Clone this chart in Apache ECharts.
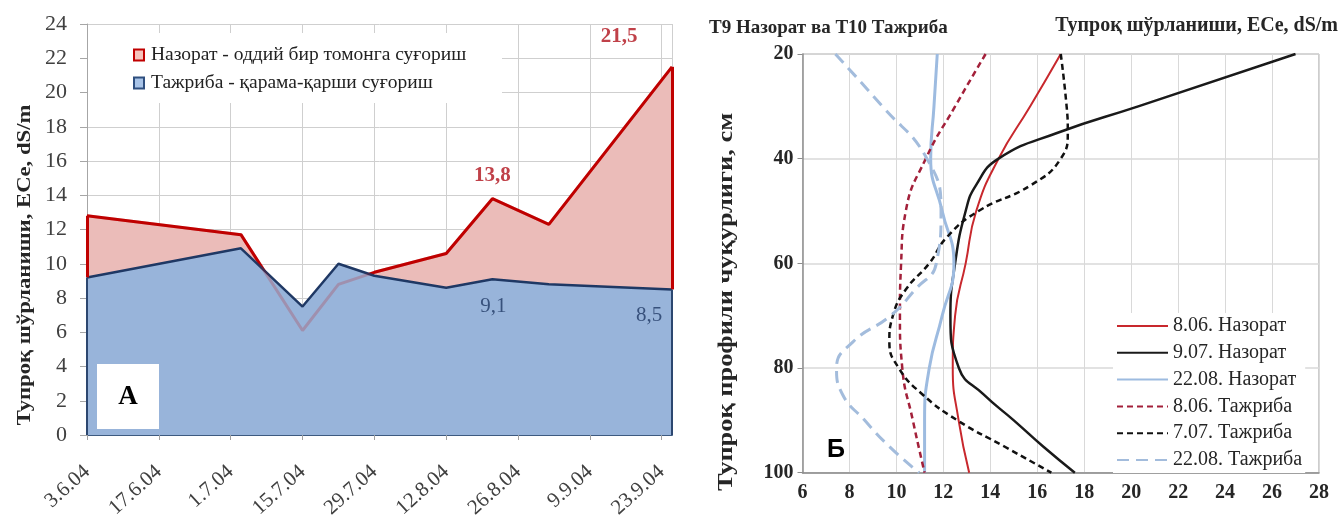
<!DOCTYPE html>
<html>
<head>
<meta charset="utf-8">
<script src="https://cdn.jsdelivr.net/npm/echarts@6/dist/echarts.min.js"></script>
<style>
  html, body { margin: 0; padding: 0; background: #fff; }
  #chart { width: 1341px; height: 522px; }
</style>
</head>
<body>
<div id="chart"></div>
<script>
const SERIF = '"Liberation Serif", "Times New Roman", serif';

// ---------- Panel A: soil salinity through the season ----------
const saltDates  = ['2004-06-03', '2004-07-03', '2004-07-15', '2004-07-22', '2004-07-29',
                    '2004-08-12', '2004-08-21', '2004-09-01', '2004-09-25'];
const controlEce = [12.8, 11.7, 6.1, 8.8, 9.5, 10.6, 13.8, 12.3, 21.5];
const trialEce   = [9.2, 10.9, 7.5, 10.0, 9.3, 8.6, 9.1, 8.8, 8.5];
const dateTicks  = ['3.6.04', '17.6.04', '1.7.04', '15.7.04', '29.7.04',
                    '12.8.04', '26.8.04', '9.9.04', '23.9.04'];
const controlName = 'Назорат - оддий бир томонга суғориш';
const trialName   = 'Тажриба - қарама-қарши суғориш';
const controlLabelIdx = [6, 8];
const trialLabelIdx   = [6, 8];

// ---------- Panel Б: salinity down the soil profile ----------
const depthCtrl0806 = [20, 30, 40, 50, 60, 70, 80, 90, 100];
const ctrl0806      = [17.0, 15.7, 14.35, 13.4, 12.95, 12.5, 12.4, 12.65, 13.1];
const depthCtrl0907 = [20, 30, 35, 40, 45, 50, 60, 70, 80, 85, 90, 95, 100];
const ctrl0907      = [27.0, 20.3, 16.9, 14.35, 13.4, 12.95, 12.5, 12.3, 12.66, 13.7, 15.0, 16.25, 17.6];
const depthCtrl2208 = [20, 30, 40, 50, 60, 70, 80, 90, 100];
const ctrl2208      = [11.74, 11.6, 11.46, 11.95, 12.45, 11.95, 11.4, 11.2, 11.2];
const depthTrial0806 = [20, 30, 40, 50, 60, 70, 80, 90, 100];
const trial0806      = [13.8, 12.5, 11.25, 10.4, 10.2, 10.15, 10.25, 10.7, 11.2];
const depthTrial0707 = [20, 30, 35, 40, 45, 50, 55, 60, 65, 70, 75, 80, 85, 90, 95, 100];
const trial0707      = [17.0, 17.25, 17.3, 17.0, 15.75, 13.5, 12.15, 11.4, 10.4, 9.85, 9.7, 10.1, 11.1, 12.6, 14.6, 16.6];
const depthTrial2208 = [20, 30, 40, 50, 60, 65, 70, 75, 80, 85, 90, 95, 100];
const trial2208      = [7.4, 9.4, 11.3, 11.9, 11.7, 10.8, 9.75, 8.15, 7.45, 7.7, 8.65, 9.7, 10.97];
const profileNames = ['8.06. Назорат', '9.07. Назорат', '22.08. Назорат',
                      '8.06. Тажриба', '7.07. Тажриба', '22.08. Тажриба'];

// ---------- helpers ----------
const DAY = 86400000;
const day0 = Date.parse(saltDates[0]);
const days = saltDates.map(s => Math.round((Date.parse(s) - day0) / DAY));
const lastIdx = days.length - 1;
const lastDay = days[lastIdx];
const comma = v => String(v).replace('.', ',');
const profile = (depths, vals) => depths.map((d, i) => [vals[i], d]);

// label placement (pixel offsets from the point)
const labelOffsets = {
  control: { 6: [0, -23], 8: [-53, -30] },
  trial:   { 6: [1, 27],  8: [-23, 26] }
};

function labelPoints(vals, idx, color, bold, offs) {
  return idx.map(i => ({
    value: [days[i], vals[i]],
    label: {
      show: true,
      position: 'inside',
      offset: offs[i],
      formatter: comma(vals[i]),
      color: color,
      fontFamily: SERIF,
      fontSize: 21,
      fontWeight: bold ? 'bold' : 'normal'
    }
  }));
}

const edgeLine = (x, y0, y1) => [{ coord: [x, y0] }, { coord: [x, y1] }];

function verticalTitle(text, x, y, size, stretch) {
  return {
    type: 'text', z: 11, x: x, y: y, rotation: Math.PI / 2, scaleX: stretch,
    style: { text: text, fontFamily: SERIF, fontSize: size, fontWeight: 'bold', fill: '#262626',
             align: 'center', verticalAlign: 'middle' },
    silent: true
  };
}

const chart = echarts.init(document.getElementById('chart'), null, { renderer: 'canvas' });

const profileStyles = [
  { color: '#c8282d', width: 2,   type: 'solid' },
  { color: '#1a1a1a', width: 2.5, type: 'solid' },
  { color: '#9dbbe0', width: 3,   type: 'solid' },
  { color: '#a3203a', width: 2.5, type: [6, 4] },
  { color: '#111111', width: 2.5, type: [6, 4] },
  { color: '#a3bcdc', width: 3,   type: [12, 7] }
];
const profileData = [
  profile(depthCtrl0806, ctrl0806),
  profile(depthCtrl0907, ctrl0907),
  profile(depthCtrl2208, ctrl2208),
  profile(depthTrial0806, trial0806),
  profile(depthTrial0707, trial0707),
  profile(depthTrial2208, trial2208)
];

const profileSeries = profileData.map((data, i) => ({
  name: profileNames[i],
  type: 'line',
  xAxisIndex: 1,
  yAxisIndex: 1,
  data: data,
  symbol: 'none',
  smooth: 0.5,
  lineStyle: profileStyles[i],
  itemStyle: { color: profileStyles[i].color },
  z: 3,
  silent: true
}));

const option = {
  animation: false,
  backgroundColor: '#ffffff',
  textStyle: { fontFamily: SERIF },
  grid: [
    { left: 87, top: 24, width: 585, height: 411 },
    { left: 802.5, top: 54, width: 516.5, height: 418.7, show: true, borderColor: '#9a9a9a', borderWidth: 1 }
  ],
  xAxis: [
    {
      gridIndex: 0, type: 'value', min: 0, max: lastDay, interval: 14,
      axisLine: { show: true, lineStyle: { color: '#3d5a80', width: 2 } },
      axisTick: { show: true, length: 5, lineStyle: { color: '#a0a0a0' } },
      splitLine: { show: true, lineStyle: { color: '#cfcfcf', width: 1 } },
      axisLabel: {
        rotate: 42, margin: 34, showMaxLabel: false,
        fontFamily: SERIF, fontSize: 21, color: '#404040',
        formatter: v => (v % 14 === 0 && dateTicks[v / 14]) || ''
      }
    },
    {
      gridIndex: 1, type: 'value', min: 6, max: 28, interval: 2,
      axisLine: { show: true, lineStyle: { color: '#8c8c8c', width: 1.5 } },
      axisTick: { show: false },
      splitLine: { show: true, lineStyle: { color: '#d9d9d9', width: 1 } },
      axisLabel: { margin: 10, fontFamily: SERIF, fontSize: 20, fontWeight: 'bold', color: '#262626' }
    }
  ],
  yAxis: [
    {
      gridIndex: 0, type: 'value', min: 0, max: 24, interval: 2,
      axisLine: { show: true, lineStyle: { color: '#a6a6a6', width: 1 } },
      axisTick: { show: true, length: 7, lineStyle: { color: '#a6a6a6' } },
      splitLine: { show: true, lineStyle: { color: '#cfcfcf', width: 1 } },
      axisLabel: { margin: 20, fontFamily: SERIF, fontSize: 22, color: '#404040' }
    },
    {
      gridIndex: 1, type: 'value', min: 20, max: 100, interval: 20, inverse: true,
      axisLine: { show: true, lineStyle: { color: '#8c8c8c', width: 1.5 } },
      axisTick: { show: true, length: 5, lineStyle: { color: '#8c8c8c' } },
      splitLine: { show: true, lineStyle: { color: '#d9d9d9', width: 1.5 } },
      axisLabel: { margin: 9, fontFamily: SERIF, fontSize: 20, fontWeight: 'bold', color: '#262626' }
    }
  ],
  legend: [
    {
      orient: 'vertical', left: 128, top: 40, itemGap: 8,
      icon: 'rect', itemWidth: 10, itemHeight: 11,
      textStyle: { fontFamily: SERIF, fontSize: 19.5, color: '#222222', padding: [0, 0, 0, 2] },
      data: [
        { name: controlName, itemStyle: { color: '#f6c4bd', borderColor: '#c00000', borderWidth: 2 } },
        { name: trialName, itemStyle: { color: '#a9c4e8', borderColor: '#2f4f7f', borderWidth: 2 } }
      ],
      selectedMode: false
    },
    {
      orient: 'vertical', left: 1113, top: 313, itemGap: 6.8, padding: [3, 3, 3, 3],
      backgroundColor: '#ffffff',
      itemWidth: 51, itemHeight: 14,
      itemStyle: { opacity: 0 },
      textStyle: { fontFamily: SERIF, fontSize: 20, color: '#262626' },
      data: profileNames,
      selectedMode: false
    }
  ],
  graphic: [
    // white panel behind the legend of panel A
    { type: 'rect', z: 1, shape: { x: 88, y: 33, width: 414, height: 70 }, style: { fill: '#ffffff' }, silent: true },
    // panel letters
    { type: 'rect', z: 10, shape: { x: 97, y: 364, width: 62, height: 65 }, style: { fill: '#ffffff' }, silent: true },
    { type: 'text', z: 11, x: 128, y: 397, style: { text: 'A', fontFamily: SERIF, fontSize: 27, fontWeight: 'bold', fill: '#000', align: 'center', verticalAlign: 'middle' }, silent: true },
    { type: 'text', z: 11, x: 836, y: 450, style: { text: 'Б', fontFamily: '"Liberation Sans", Arial, sans-serif', fontSize: 25, fontWeight: 'bold', fill: '#000', align: 'center', verticalAlign: 'middle' }, silent: true },
    // axis titles
    verticalTitle('Тупроқ шўрланиши, ECe, dS/m', 25, 265, 18, 1.26),
    verticalTitle('Тупроқ профили чуқурлиги, см', 727, 302, 20, 1.32),
    // panel Б headings
    { type: 'text', z: 11, x: 709, y: 28, style: { text: 'T9 Назорат ва T10 Тажриба', fontFamily: SERIF, fontSize: 19, fontWeight: 'bold', fill: '#262626', align: 'left', verticalAlign: 'middle' }, silent: true },
    { type: 'text', z: 11, x: 1338, y: 26, style: { text: 'Тупроқ шўрланиши, ECe, dS/m', fontFamily: SERIF, fontSize: 20, fontWeight: 'bold', fill: '#262626', align: 'right', verticalAlign: 'middle' }, silent: true }
  ],
  series: [
    {
      name: controlName,
      type: 'line', xAxisIndex: 0, yAxisIndex: 0,
      data: days.map((d, i) => [d, controlEce[i]]),
      symbol: 'none',
      lineStyle: { color: '#c00000', width: 3 },
      itemStyle: { color: '#c00000' },
      areaStyle: { color: '#ebbcb9', opacity: 1 },
      z: 2,
      silent: true,
      markLine: {
        silent: true, symbol: 'none', label: { show: false },
        lineStyle: { color: '#c00000', width: 3, type: 'solid' },
        data: [
          edgeLine(days[0], trialEce[0], controlEce[0]),
          edgeLine(lastDay, trialEce[lastIdx], controlEce[lastIdx])
        ]
      }
    },
    {
      name: trialName,
      type: 'line', xAxisIndex: 0, yAxisIndex: 0,
      data: days.map((d, i) => [d, trialEce[i]]),
      symbol: 'none',
      lineStyle: { color: '#1f3864', width: 2.5 },
      itemStyle: { color: '#95b3d7' },
      areaStyle: { color: '#98b4da', opacity: 1 },
      z: 3,
      silent: true,
      markLine: {
        silent: true, symbol: 'none', label: { show: false },
        lineStyle: { color: '#2c4770', width: 2, type: 'solid' },
        data: [
          edgeLine(days[0], 0, trialEce[0]),
          edgeLine(lastDay, 0, trialEce[lastIdx])
        ]
      }
    },
    {
      // control line seen through the trial area
      name: 'control-trace',
      type: 'line', xAxisIndex: 0, yAxisIndex: 0,
      data: days.map((d, i) => [d, controlEce[i]]),
      symbol: 'none',
      lineStyle: { color: 'rgba(192,0,0,0.2)', width: 3 },
      z: 4,
      silent: true
    },
    {
      name: 'control-labels',
      type: 'scatter', xAxisIndex: 0, yAxisIndex: 0,
      symbolSize: 1, itemStyle: { color: 'rgba(0,0,0,0)' },
      data: labelPoints(controlEce, controlLabelIdx, '#b0121b', true, labelOffsets.control),
      z: 6, silent: true
    },
    {
      name: 'trial-labels',
      type: 'scatter', xAxisIndex: 0, yAxisIndex: 0,
      symbolSize: 1, itemStyle: { color: 'rgba(0,0,0,0)' },
      data: labelPoints(trialEce, trialLabelIdx, '#1f3864', false, labelOffsets.trial),
      z: 6, silent: true
    }
  ].concat(profileSeries)
};

chart.setOption(option);
</script>
</body>
</html>
